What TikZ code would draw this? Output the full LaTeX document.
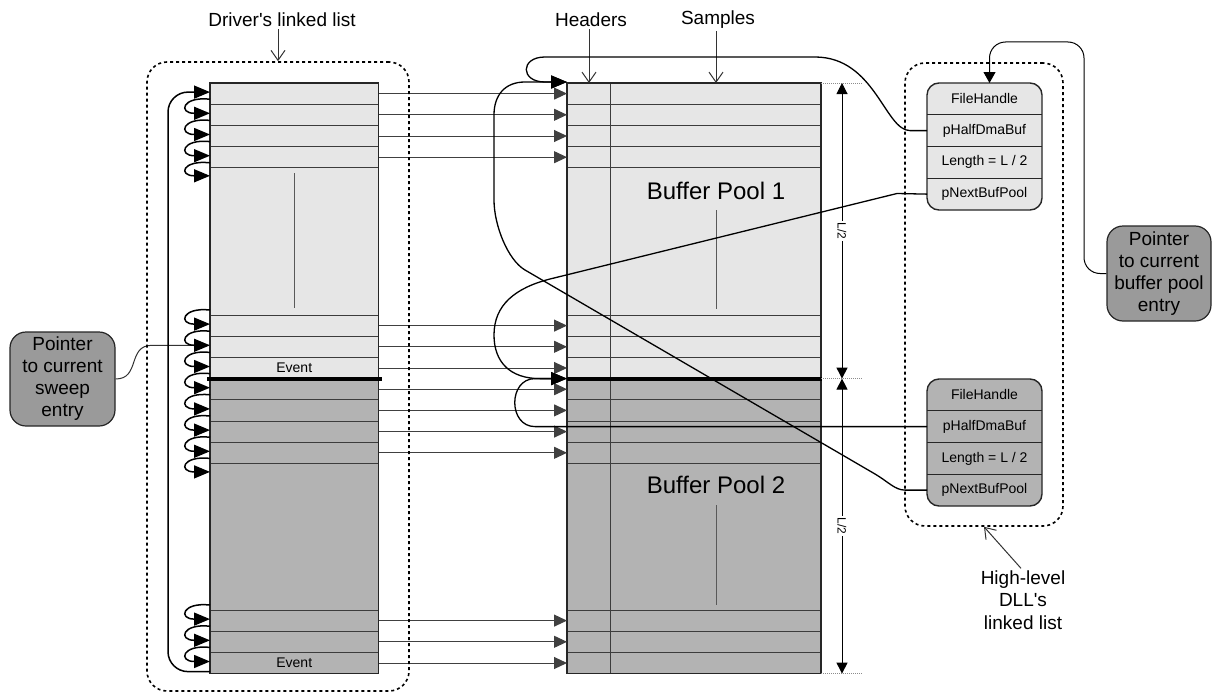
\documentclass[tikz,border=0pt]{standalone}
\usepackage{fontspec}
\setmainfont{Liberation Sans}[Ligatures=TeXOff]
\usetikzlibrary{arrows.meta}
\definecolor{poollight}{HTML}{E6E6E6}
\definecolor{pooldark}{HTML}{B3B3B3}
\definecolor{ptrgray}{HTML}{9A9A9A}
\definecolor{rulegray}{HTML}{3C3C3C}
\begin{document}
\begin{tikzpicture}[x=1pt,y=-1pt,
  cell/.style={draw=rulegray, line width=0.7pt, inner sep=0pt, outer sep=0pt, font=\fontsize{14}{16}\selectfont},
  frame/.style={draw=black!85, line width=1.4pt},
  sep/.style={draw=black!85, line width=1pt},
  link/.style={draw=black!75, line width=1pt, -{Triangle[length=13pt,width=12pt]}},
  chain/.style={draw=black, line width=1.5pt, -{Triangle[length=16pt,width=13pt]}},
  ptrline/.style={draw=black, line width=1.3pt, -{Triangle[length=16pt,width=13pt]}},
  thinline/.style={draw=black!80, line width=1pt},
  callout/.style={draw=black!80, line width=1pt, -{Straight Barb[length=10pt,width=14pt]}},
  dashbox/.style={draw=black, line width=1.6pt, dash pattern=on 3pt off 3pt, rounded corners=20pt, inner sep=0pt},
  ptrbox/.style={draw=black!85, line width=1.2pt, fill=ptrgray, rounded corners=16pt, align=center,
                 font=\fontsize{19}{22}\selectfont, inner sep=0pt},
  caption/.style={font=\fontsize{19}{22.5}\selectfont, inner sep=2pt, align=center},
  field/.style={minimum width=115pt, minimum height=31.75pt, inner sep=0pt, outer sep=0pt, font=\fontsize{14}{16}\selectfont},
  elide/.style={draw=black!65, line width=0.9pt},
  extline/.style={draw=black!45, line width=1pt, dash pattern=on 1pt off 1pt},
  dimarrow/.style={draw=black, line width=1pt, {Triangle[length=11pt,width=11pt]}-{Triangle[length=11pt,width=11pt]}},
  dimlabel/.style={fill=white, rotate=-90, inner sep=1.5pt, font=\fontsize{12}{14}\selectfont}
]
\fill[white] (0,0) rectangle (1212,693);
\useasboundingbox (0,0) rectangle (1212,693);

% ---------- list entries and buffer rows ----------
\foreach \n/\y/\h/\c/\t in {
  r0/93.6/21.2/poollight/{},
  r1/114.8/21.2/poollight/{},
  r2/136.0/21.2/poollight/{},
  r3/157.2/21.2/poollight/{},
  A/241.4/147.2/poollight/{},
  m0/325.6/21.2/poollight/{},
  m1/346.8/21.2/poollight/{},
  m2/368.0/21.2/poollight/Event,
  m3/389.2/21.2/pooldark/{},
  m4/410.4/21.2/pooldark/{},
  m5/431.6/21.2/pooldark/{},
  m6/452.8/21.2/pooldark/{},
  B/536.7/146.6/pooldark/{},
  b0/620.6/21.2/pooldark/{},
  b1/641.8/21.2/pooldark/{},
  b2/663.0/21.2/pooldark/Event}
{
  \node[cell, fill=\c, minimum width=168.5pt, minimum height=\h pt] (l\n) at (294.25,\y) {\t};
  \node[cell, fill=\c, minimum width=254pt, minimum height=\h pt] (p\n) at (694,\y) {};
}

% header / sample divider
\draw[draw=rulegray, line width=1pt] ([xshift=43pt]pr0.north west) -- ([xshift=43pt]pb2.south west);

% outer frames
\draw[frame] (lr0.north west) rectangle (lb2.south east);
\draw[frame] (pr0.north west) rectangle (pb2.south east);

% boundary between the two halves
\draw[line width=4pt] ([xshift=-3pt]lm3.north west) -- ([xshift=3pt]lm3.north east);
\draw[line width=4pt] (pm3.north west) -- ([xshift=1pt]pm3.north east);

% elision marks
\draw[elide] (294,173) -- (294,308);
\draw[elide] (716,210) -- (716,309);
\draw[elide] (716,505) -- (716,605);

\node[font=\fontsize{24}{28}\selectfont] (bp1) at (716,191) {Buffer Pool 1};
\node[font=\fontsize{24}{28}\selectfont] (bp2) at (716,485) {Buffer Pool 2};

% entry -> buffer row links
\foreach \n in {r0,r1,r2,r3,m0,m1,m2,m3,m4,m5,m6,b0,b1,b2}
  \draw[link] (l\n.east) -- (p\n.west);

% ---------- sweep pointer ----------
\node[ptrbox, minimum width=105pt, minimum height=94pt] (ptr1) at (62.5,379) {Pointer\\to current\\sweep\\entry};
\draw[thinline] (ptr1.east) .. controls +(25,0) and +(-25,0) .. ([xshift=-58pt,yshift=1.5pt]lm1.west) -- ([yshift=1.5pt]lm1.west);

% ---------- driver's chain ----------
\foreach \a/\b in {lr0/lr1,lr1/lr2,lr2/lr3,lA/lm0,lm0/lm1,lm1/lm2,lm2/lm3,lm3/lm4,lm4/lm5,lm5/lm6,lB/lb0,lb0/lb1,lb1/lb2}
  \draw[chain] ([yshift=5pt]\a.south west) .. controls +(-28,-3) and +(-32,0) .. ([yshift=1.5pt]\b.west);
\draw[chain] ([yshift=5pt]lr3.south west) .. controls +(-28,-3) and +(-32,0) .. ([yshift=-8pt]lA.north west);
\draw[chain] ([yshift=5pt]lm6.south west) .. controls +(-28,-3) and +(-32,0) .. ([yshift=-8.5pt]lB.north west);
\draw[chain, rounded corners=20pt] ([yshift=2pt]lb2.south west) -| ([xshift=-42pt,yshift=1.5pt]lr0.west) -- ([yshift=1.5pt]lr0.west);

% driver's list outline and caption
\node[dashbox, minimum width=262pt, minimum height=629pt] (dbox) at (278,376.5) {};
\node[caption] (drv) at (282,20) {Driver's linked list};
\draw[callout] ([xshift=-4pt]drv.south) -- (dbox.north);

\node[caption] (hdr) at (591,20) {Headers};
\node[caption] (smp) at (718,20) {Samples};
\draw[callout] ([xshift=-2pt]hdr.south) -- ([xshift=22pt]pr0.north west);
\draw[callout] ([xshift=-2pt]smp.south) -- ([xshift=149pt]pr0.north west);

% ---------- size markers ----------
\draw[extline] (pr0.north east) -- ++(42,0);
\draw[extline] (pm3.north east) -- ++(42,0);
\draw[extline] (pb2.south east) -- ++(42,0);
\coordinate (dimT) at ([xshift=21pt]pr0.north east);
\coordinate (dimM) at ([xshift=21pt]pm3.north east);
\coordinate (dimB) at ([xshift=21pt]pb2.south east);
\draw[dimarrow] (dimM) -- node[dimlabel] (half1) {L/2} (dimT);
\draw[dimarrow] (dimM) -- node[dimlabel] (half2) {L/2} (dimB);

% ---------- high-level structures ----------
\node[dashbox, minimum width=158pt, minimum height=463pt] (hbox) at (984,294.5) {};

\draw[frame, fill=poollight, rounded corners=12pt] (927,83) rectangle (1042,210);
\draw[frame, fill=pooldark, rounded corners=12pt] (927,379) rectangle (1042,506);

\foreach \n/\y/\t in {fh1/98.875/FileHandle, hd1/130.625/pHalfDmaBuf, ln1/162.375/{Length = L / 2}, nx1/194.125/pNextBufPool,
                      fh2/394.875/FileHandle, hd2/426.625/pHalfDmaBuf, ln2/458.375/{Length = L / 2}, nx2/490.125/pNextBufPool}
  \node[field] (\n) at (984.5,\y) {\t};
\foreach \n in {fh1,hd1,ln1,fh2,hd2,ln2}
  \draw[sep] (\n.south west) -- (\n.south east);

\node[caption] (hl) at (1023,600) {High-level\\DLL's\\linked list};
\draw[callout] ([xshift=-2pt]hl.north) -- (hbox.south);

% buffer pool pointers
\draw[ptrline] (hd1.west) -- (910,130.6) .. controls (885,130.6) and (875,57) .. (815,57) -- (545,57)
  .. controls (520,57) and (520,82) .. (545,82) -- ([yshift=1pt]pr0.north west);
\draw[ptrline] (nx2.west) -- (905,490.1) .. controls (895,490.1) and (888,481.6) .. (875,474) -- (525,270)
  .. controls (507.7,259.9) and (494,225) .. (494,200) -- (494,115)
  .. controls (494,95) and (505,82) .. (525,82) -- ([yshift=1pt]pr0.north west);
\draw[ptrline] (nx1.west) -- (897,193.5) -- (550,279) .. controls (515,288) and (494,305) .. (494,335)
  .. controls (494,362) and (510,378.6) .. (540,378.6) -- (pm3.north west);
\draw[ptrline] (hd2.west) -- (535,426.6) .. controls (508,426.6) and (508,378.6) .. (535,378.6) -- (pm3.north west);

% ---------- current buffer pool pointer ----------
\node[ptrbox, minimum width=104pt, minimum height=95pt] (ptr2) at (1159,273.5) {Pointer\\to current\\buffer pool\\entry};
\coordinate (ptrbend) at (1084,42);
\draw[draw=black, line width=1pt, rounded corners=16pt, -{Triangle[length=11pt,width=12pt]}]
  (ptr2.west) -| (ptrbend) -| ([xshift=5pt]fh1.north);

\end{tikzpicture}
\end{document}
